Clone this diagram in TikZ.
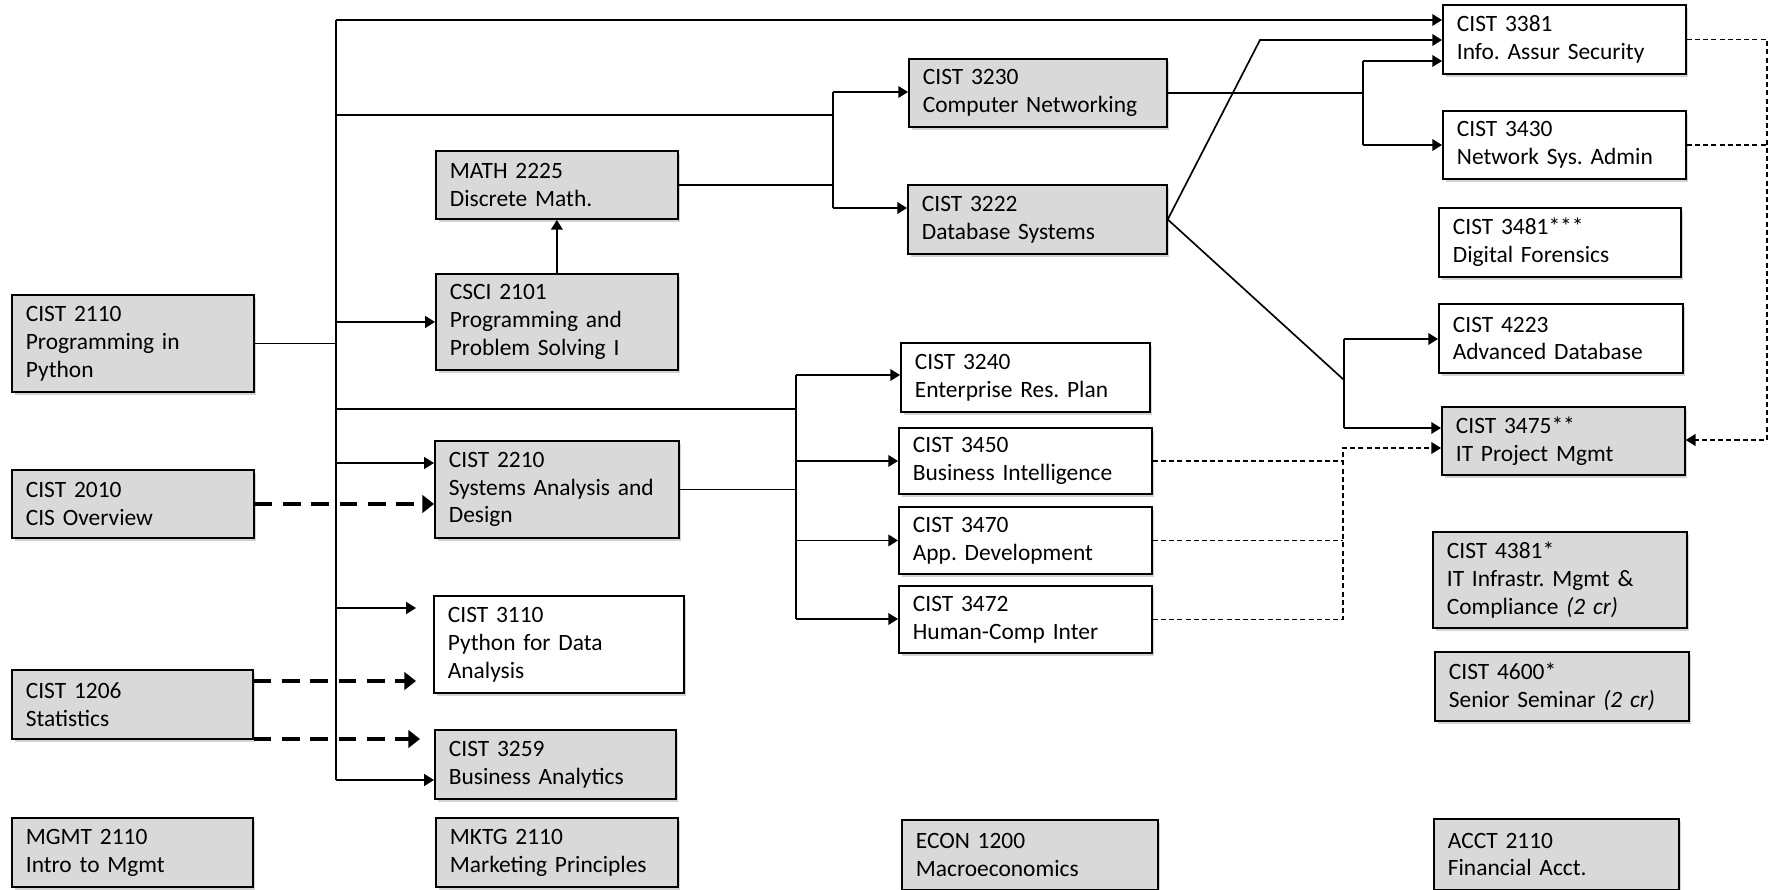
\documentclass[tikz,border=0pt]{standalone}
\usepackage{fontspec}
\setmainfont{Carlito}
\usepackage{tikz}
\usetikzlibrary{arrows.meta,shadows}
\definecolor{crsgray}{RGB}{217,217,217}
\newcommand\crsfont{\fontsize{12}{14.3}\selectfont\frenchspacing}
\tikzset{
  crs/.style={draw,line width=1pt,anchor=north west,align=left,inner xsep=0.25cm,inner ysep=0pt,font=\crsfont,
    drop shadow={shadow xshift=1.3pt,shadow yshift=-1.5pt,fill=gray,opacity=0.35}},
  sz/.code 2 args={\pgfmathsetlengthmacro\crsw{(#1-28)*0.018cm}\pgfmathsetlengthmacro\crsh{#2*0.018cm}%
    \tikzset{text width=\crsw,minimum height=\crsh}},
  gry/.style={crs,fill=crsgray},
  wht/.style={crs,fill=white},
  ln/.style={line width=0.85pt},
  arr/.style={ln,-{Triangle[length=5pt,width=6pt]}},
  tdash/.style={line width=2pt,dash pattern=on 9pt off 5.5pt,-{Triangle[length=6pt,width=9pt]}},
  ndash/.style={line width=0.85pt,dash pattern=on 2.6pt off 1.6pt},
  ndarr/.style={ndash,-{Triangle[length=5pt,width=6pt]}}
}
\begin{document}
\begin{tikzpicture}[x=0.018cm,y=-0.018cm]
\useasboundingbox (0,0) rectangle (1769,890);
\node[gry,sz={242}{97}](c2110)at(11,294){CIST 2110\\Programming in\\Python};
\node[gry,sz={242}{68}](c2010)at(11,469){CIST 2010\\CIS Overview};
\node[gry,sz={241}{69}](c1206)at(11,669){CIST 1206\\Statistics};
\node[gry,sz={241}{69}](mgmt)at(11,817){MGMT 2110\\Intro to Mgmt};
\node[gry,sz={242}{68}](math)at(435,150){MATH 2225\\Discrete Math.};
\node[gry,sz={242}{96}](csci)at(435,273){CSCI 2101\\Programming and\\Problem Solving I};
\node[gry,sz={244}{97}](c2210)at(434,440){CIST 2210\\Systems Analysis and\\Design};
\node[wht,sz={250}{97}](c3110)at(433,595){CIST 3110\\Python for Data\\Analysis};
\node[gry,sz={241}{69}](c3259)at(434,729){CIST 3259\\Business Analytics};
\node[gry,sz={242}{69}](mktg)at(435,817){MKTG 2110\\Marketing Principles};
\node[gry,sz={258}{68}](c3230)at(908,58){CIST 3230\\Computer Networking};
\node[gry,sz={259}{69}](c3222)at(907,184){CIST 3222\\Database Systems};
\node[wht,sz={249}{69}](c3240)at(900,342){CIST 3240\\Enterprise Res. Plan};
\node[wht,sz={253}{66}](c3450)at(898,427){CIST 3450\\Business Intelligence};
\node[wht,sz={253}{67}](c3470)at(898,506){CIST 3470\\App. Development};
\node[wht,sz={253}{67}](c3472)at(898,585){CIST 3472\\Human-Comp Inter};
\node[gry,sz={256}{70}](econ)at(901,819){ECON 1200\\Macroeconomics};
\node[wht,sz={243}{69}](c3381)at(1442,4){CIST 3381\\Info. Assur Security};
\node[wht,sz={243}{68}](c3430)at(1442,110){CIST 3430\\Network Sys. Admin};
\node[wht,sz={242}{69}](c3481)at(1438,207){CIST 3481***\\Digital Forensics};
\node[wht,sz={244}{69}](c4223)at(1438,303){CIST 4223\\Advanced Database};
\node[gry,sz={243}{68}](c3475)at(1441,406){CIST 3475**\\IT Project Mgmt};
\node[gry,sz={254}{96}](c4381)at(1432,531){CIST 4381*\\IT Infrastr. Mgmt \&\\Compliance \textit{(2 cr)}};
\node[gry,sz={254}{69}](c4600)at(1434,651){CIST 4600*\\Senior Seminar \textit{(2 cr)}};
\node[gry,sz={245}{71}](acct)at(1433,818){ACCT 2110\\Financial Acct.};
\coordinate (t1) at (336,20);
\coordinate (t2) at (336,115);
\coordinate (t3) at (336,409);
\coordinate (t4) at (336,463);
\coordinate (t9) at (336,780);
\coordinate (b1) at (833,92);
\coordinate (b2) at (833,208);
\coordinate (b3) at (796,375);
\coordinate (b4) at (796,619);
\coordinate (b5) at (1363,61);
\coordinate (b6) at (1363,145);
\coordinate (b7) at (1344,339);
\coordinate (b8) at (1344,428);
\coordinate (e1) at (416,608);
\coordinate (e2) at (416,681);
\coordinate (e3) at (420,739);
\coordinate (k1) at (1260,40);
\coordinate (k2) at (1344,380);
\coordinate (k3) at (1343,448);
\coordinate (k4) at (1767,440);
\draw[ln] (t1) -- (t9);
\draw[arr] (t1) -- (t1 -| c3381.west);
\draw[ln] (c2110.east) -- (c2110.east -| t1);
\draw[ln] (t2) -- (t2 -| b1);
\draw[ln] (b1) -- (b2);
\draw[arr] (b1) -- (b1 -| c3230.west);
\draw[arr] (b2) -- (b2 -| c3222.west);
\draw[ln] (math.east) -- (math.east -| b1);
\draw[arr] (csci.west -| t1) -- (csci.west);
\draw[arr] (csci) -- (math);
\draw[ln] (t3) -- (t3 -| b3);
\draw[ln] (b3) -- (b4);
\draw[arr] (b3) -- (b3 -| c3240.west);
\draw[arr] (c3450.west -| b3) -- (c3450.west);
\draw[arr] (c3470.west -| b3) -- (c3470.west);
\draw[arr] (b4) -- (b4 -| c3472.west);
\draw[ln] (c2210.east) -- (c2210.east -| b3);
\draw[arr] (t4) -- (t4 -| c2210.west);
\draw[tdash] (c2010.east) -- (c2010.east -| c2210.west);
\draw[arr] (e1 -| t1) -- (e1);
\draw[tdash] (e2 -| c1206.east) -- (e2);
\draw[tdash] (e3 -| c1206.east) -- (e3);
\draw[arr] (t9) -- (t9 -| c3259.west);
\draw[ln] (c3230.east) -- (c3230.east -| b5);
\draw[ln] (b5) -- (b6);
\draw[arr] (b5) -- (b5 -| c3381.west);
\draw[arr] (b6) -- (b6 -| c3430.west);
\draw[arr] (c3222.east) -- (k1) -- (k1 -| c3381.west);
\draw[ln] (c3222.east) -- (k2);
\draw[ln] (b7) -- (b8);
\draw[arr] (b7) -- (b7 -| c4223.west);
\draw[arr] (b8) -- (b8 -| c3475.west);
\draw[ndash] (c3450.east) -- (c3450.east -| k3);
\draw[ndash] (c3470.east) -- (c3470.east -| k3);
\draw[ndarr] (c3472.east) -- (c3472.east -| k3) -- (k3) -- (k3 -| c3475.west);
\draw[ndash] (c3430.east) -- (c3430.east -| k4);
\draw[ndarr] (c3381.east) -- (c3381.east -| k4) -- (k4) -- (k4 -| c3475.east);
\end{tikzpicture}
\end{document}
